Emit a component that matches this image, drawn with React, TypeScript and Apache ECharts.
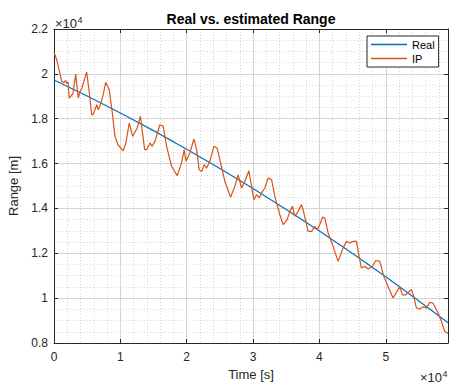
import React, { useEffect, useRef } from "react";
import * as echarts from "echarts";

// Time in seconds, range in metres
const realTime = [0, 5000, 10000, 15000, 20000, 25000, 30000, 35000, 40000, 45000, 50000, 55000, 59380];
const realRange = [19726, 19009, 18256, 17468, 16643, 15783, 14888, 13957, 12990, 11988, 10949, 9875, 8906];

const ipTime = [
  0, 410, 1160, 1510, 1760, 1960, 2110, 2300, 2860, 3270,
  3660, 3920, 4220, 4920, 5270, 5680, 5870, 6170, 6430, 6670,
  7080, 7380, 7790, 8330, 8730, 9190, 9640, 10440, 10840, 11340,
  11850, 12540, 13030, 13660, 13960, 14460, 14800, 15210, 15960, 16460,
  16970, 17730, 18570, 19230, 19620, 19880, 20480, 21080, 21490, 21880,
  22240, 22640, 23000, 23490, 24100, 24590, 25110, 25750, 26610, 27260,
  27750, 28270, 28770, 29370, 29770, 30120, 30530, 30920, 31280, 31780,
  32280, 32790, 33280, 34040, 34540, 35140, 35540, 35950, 36300, 36790,
  37300, 37550, 38300, 38810, 39310, 39650, 40060, 40470, 40810, 41310,
  42060, 42820, 43570, 44080, 44580, 45080, 45590, 45980, 46340, 46840,
  47330, 48000, 48490, 49100, 49700, 50350, 51100, 51700, 52110, 52520,
  53010, 53510, 53870, 54220, 54620, 55120, 55620, 56130, 56630, 57120,
  57880, 58390, 58890, 59380,
];
const ipRange = [
  20970, 20630, 19660, 19610, 19710, 19560, 19650, 18920, 19120, 19990,
  18920, 19200, 19380, 20080, 19290, 18180, 18180, 18400, 18630, 18400,
  18710, 19030, 19620, 19290, 18400, 17210, 16840, 16570, 16930, 17810,
  17210, 17590, 18110, 16620, 16620, 16920, 16770, 16990, 17730, 17660,
  16770, 15870, 15460, 16030, 16620, 16100, 16470, 17100, 16620, 15730,
  15650, 15950, 15800, 16100, 16770, 16690, 16030, 15210, 14510, 14980,
  15500, 14910, 15210, 15680, 14980, 14390, 14610, 14470, 14690, 14910,
  15360, 15280, 14540, 13720, 13280, 13500, 13870, 14090, 13650, 13870,
  14170, 13940, 12980, 12980, 13200, 13050, 13280, 13610, 13570, 12910,
  12310, 11640, 12240, 12530, 12460, 12530, 12530, 11860, 11340, 11420,
  11300, 11420, 11680, 11640, 10970, 10520, 10010, 10300, 10520, 10150,
  10150, 10300, 10380, 10080, 9560, 9520, 9610, 9560, 9810, 9780,
  9340, 8960, 8520, 8420,
];

const xMin = 0;
const xMax = 59380;
const xStep = 10000;
const xMinorStep = 2000;
const yMin = 8000;
const yMax = 22000;
const yStep = 2000;
const yMinorStep = 500;

const FONT = "'Liberation Sans', Arial, Helvetica, sans-serif";
const AX = "#262626";
const fmt = (v: number) => String(+(v / 1e4).toFixed(1));
const LINE_ICON = "path://M0,0L36,0L36,1.3L0,1.3Z";

export default function App() {
  const ref = useRef<HTMLDivElement>(null);
  useEffect(() => {
    if (!ref.current) return;
    const chart = echarts.init(ref.current, undefined, { renderer: "svg" });
    const axisLine = { show: true, onZero: false, lineStyle: { color: AX, width: 1 } };
    const tick = { show: true, inside: true, length: 4, lineStyle: { color: AX, width: 1 } };
    const majorGrid = { show: true, lineStyle: { color: "#d4d4d4", width: 1 } };
    const minorGrid = { show: true, lineStyle: { color: "#d6d6d6", width: 1, type: [1, 2] } };
    const option: any = {
      animation: false,
      backgroundColor: "#ffffff",
      textStyle: { fontFamily: FONT },
      grid: { left: 54, right: 1, top: 29, bottom: 42, containLabel: false, outerBoundsMode: "none" },
      legend: {
        data: [
          { name: "Real", icon: LINE_ICON },
          { name: "IP", icon: LINE_ICON },
        ],
        orient: "vertical",
        left: 367,
        top: 36,
        padding: [3, 4, 3, 4],
        itemWidth: 36,
        itemHeight: 12,
        itemGap: 3,
        borderColor: AX,
        borderWidth: 1,
        backgroundColor: "#ffffff",
        borderRadius: 0,
        textStyle: { fontSize: 11, color: "#000", fontFamily: FONT },
      },
      xAxis: [
        {
          type: "value", position: "bottom", min: xMin, max: xMax, interval: xStep,
          axisLine, axisTick: tick,
          axisLabel: { color: AX, fontSize: 12, margin: 8, formatter: fmt, showMaxLabel: false, fontFamily: FONT },
          splitLine: majorGrid,
          name: "Time [s]", nameLocation: "middle", nameGap: 22,
          nameTextStyle: { fontSize: 13, color: AX, fontFamily: FONT },
        },
        {
          type: "value", position: "top", min: xMin, max: xMax, interval: xStep,
          axisLine, axisTick: tick, axisLabel: { show: false }, splitLine: { show: false },
        },
        {
          type: "value", position: "bottom", min: xMin, max: xMax, interval: xMinorStep,
          axisLine: { show: false }, axisTick: { show: false }, axisLabel: { show: false },
          splitLine: minorGrid,
        },
      ],
      yAxis: [
        {
          type: "value", position: "left", min: yMin, max: yMax, interval: yStep,
          axisLine, axisTick: tick,
          axisLabel: { color: AX, fontSize: 12, margin: 6, formatter: fmt, fontFamily: FONT },
          splitLine: majorGrid,
          name: "Range [m]", nameLocation: "middle", nameGap: 26, nameRotate: 90,
          nameTextStyle: { fontSize: 13, color: AX, fontFamily: FONT },
        },
        {
          type: "value", position: "right", min: yMin, max: yMax, interval: yStep,
          axisLine, axisTick: tick, axisLabel: { show: false }, splitLine: { show: false },
        },
        {
          type: "value", position: "left", min: yMin, max: yMax, interval: yMinorStep,
          axisLine: { show: false }, axisTick: { show: false }, axisLabel: { show: false },
          splitLine: minorGrid,
        },
      ],
      series: [
        {
          name: "Real", type: "line", xAxisIndex: 0, yAxisIndex: 0,
          data: realTime.map((t, i) => [t, realRange[i]]),
          symbol: "none", showSymbol: false,
          lineStyle: { color: "#0072BD", width: 1.2 }, itemStyle: { color: "#0072BD" },
          z: 3,
        },
        {
          name: "IP", type: "line", xAxisIndex: 0, yAxisIndex: 0,
          data: ipTime.map((t, i) => [t, ipRange[i]]),
          symbol: "none", showSymbol: false,
          lineStyle: { color: "#D95319", width: 1.2 }, itemStyle: { color: "#D95319" },
          z: 4,
        },
      ],
      graphic: [
        {
          type: "text", x: 251, y: 18.5, z: 10,
          style: { text: "Real vs. estimated Range", align: "center", verticalAlign: "middle", font: `bold 14px ${FONT}`, fill: "#000" },
        },
        {
          type: "text", x: 55, y: 23.3, z: 10,
          style: { text: "×10", align: "left", verticalAlign: "middle", font: `13px ${FONT}`, fill: AX },
        },
        {
          type: "text", x: 77.5, y: 20, z: 10,
          style: { text: "4", align: "left", verticalAlign: "middle", font: `9px ${FONT}`, fill: AX },
        },
        {
          type: "text", x: 420, y: 377, z: 10,
          style: { text: "×10", align: "left", verticalAlign: "middle", font: `13px ${FONT}`, fill: AX },
        },
        {
          type: "text", x: 442.5, y: 373.5, z: 10,
          style: { text: "4", align: "left", verticalAlign: "middle", font: `9px ${FONT}`, fill: AX },
        },
      ],
    };
    chart.setOption(option);
    return () => chart.dispose();
  }, []);
  return (
    <div
      ref={ref}
      style={{ position: "fixed", left: 0, top: 0, width: 449, height: 385, background: "#fff" }}
    />
  );
}
